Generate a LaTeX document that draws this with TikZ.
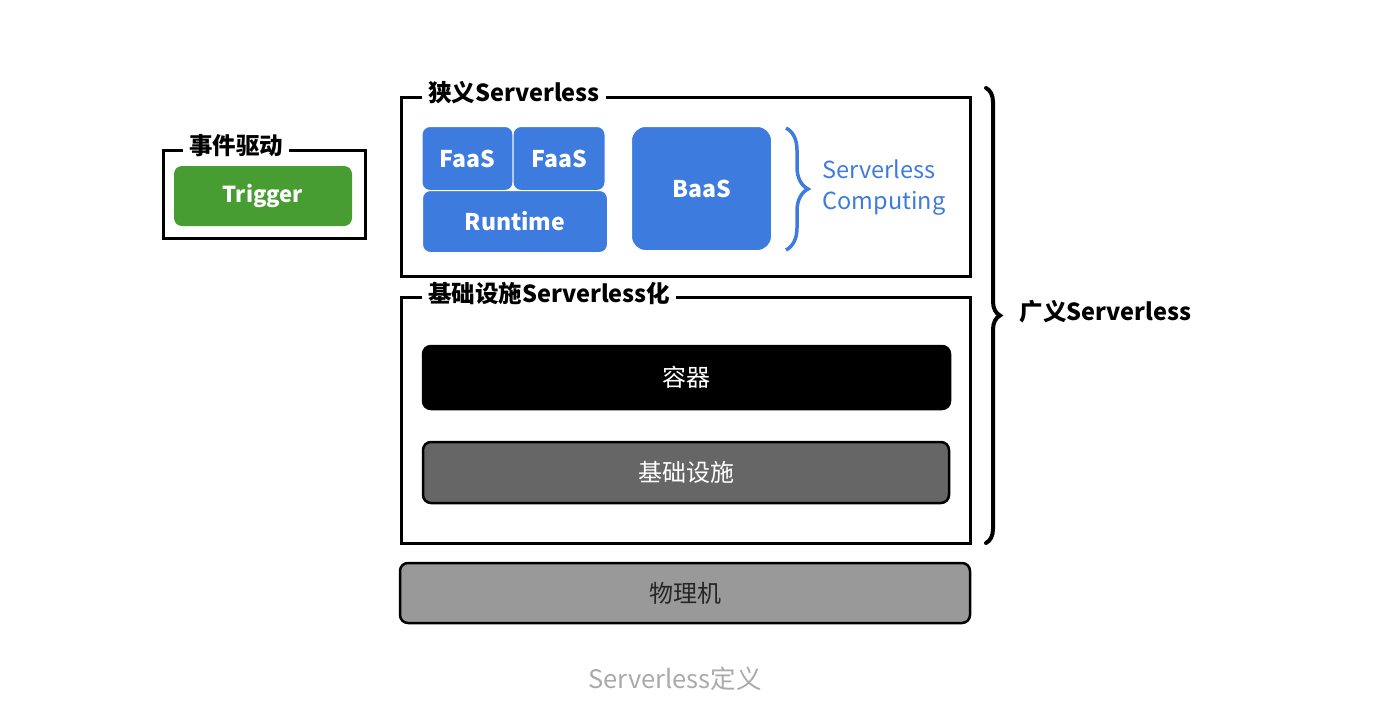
\documentclass[tikz,border=0pt]{standalone}
\usepackage{fontspec}
\setmainfont{Noto Sans CJK SC}
\usetikzlibrary{decorations.pathreplacing,positioning}
\definecolor{faasblue}{RGB}{62,123,222}
\definecolor{triggergreen}{RGB}{72,157,50}
\definecolor{infragrey}{RGB}{102,102,102}
\definecolor{hostgrey}{RGB}{153,153,153}
\definecolor{captiongrey}{RGB}{170,170,170}
\tikzset{
  frame/.style={draw=black,line width=3pt,inner sep=0pt},
  framelabel/.style={fill=white,inner xsep=6pt,inner ysep=1pt,anchor=west,
    font=\fontsize{23.5}{26}\selectfont\bfseries},
  bluebox/.style={fill=faasblue,draw=white,line width=1pt,rounded corners=8pt,
    text=white,font=\fontsize{23}{26}\selectfont\bfseries},
  greenbox/.style={fill=triggergreen,rounded corners=8pt,text=white,
    font=\fontsize{22}{25}\selectfont\bfseries},
  layerbox/.style={draw=black,line width=2.5pt,rounded corners=8pt,
    font=\fontsize{24}{27}\selectfont},
  bluebrace/.style={decorate,decoration={brace,amplitude=22pt},
    draw=faasblue,line width=3.5pt},
  bigbrace/.style={decorate,decoration={brace,amplitude=14pt},
    draw=black,line width=4pt,line cap=round}
}
\begin{document}
\begin{tikzpicture}[x=1pt,y=-1pt]
  \useasboundingbox (0,0) rectangle (1376,710);
  % event trigger
  \node[frame,minimum width=202pt,minimum height=88pt] (eventframe) at (264,194) {};
  \node[framelabel] (eventlabel) at (183,146) {事件驱动};
  \node[greenbox,minimum width=178pt,minimum height=60pt] (trigger) at (263,196) {Trigger};
  % narrow serverless
  \node[frame,minimum width=569pt,minimum height=179pt] (narrowframe) at (685.5,186.5) {};
  \node[framelabel] (narrowlabel) at (422,93) {狭义Serverless};
  \node[bluebox,minimum width=91pt,minimum height=64pt] (faasa) at (467.5,158.5) {FaaS};
  \node[bluebox,minimum width=92pt,minimum height=64pt] (faasb) at (559,158.5) {FaaS};
  \node[bluebox,minimum width=185pt,minimum height=62pt] (runtime) at (515,221.5) {Runtime};
  \node[bluebox,rounded corners=14pt,minimum width=140pt,minimum height=124pt] (baas) at (701.5,188.5) {BaaS};
  \coordinate (bluetop) at (786,128);
  \coordinate (bluebot) at (786,250);
  \draw[bluebrace] (bluetop) -- (bluebot);
  \node[anchor=west,align=left,text=faasblue,font=\fontsize{23.5}{31}\selectfont] (computing) at (819,188) {Serverless\\Computing};
  % infrastructure serverless
  \node[frame,minimum width=569pt,minimum height=246pt] (infraframe) at (685.5,420) {};
  \node[framelabel] (infralabel) at (422,293) {基础设施Serverless化};
  \node[layerbox,fill=black,text=white,minimum width=527pt,minimum height=63pt] (container) at (686.5,377.5) {容器};
  \node[layerbox,fill=infragrey,text=white,minimum width=526pt,minimum height=61pt] (infra) at (686,472.5) {基础设施};
  % physical host
  \node[layerbox,fill=hostgrey,text=black!85,minimum width=570pt,minimum height=60pt] (host) at (685,593) {物理机};
  % broad serverless
  \coordinate (bigtop) at (986,88);
  \coordinate (bigbot) at (986,543);
  \draw[bigbrace] (bigtop) -- (bigbot);
  \node[anchor=west,font=\fontsize{23.5}{26}\selectfont\bfseries] (broad) at (1016,312) {广义Serverless};
  % caption
  \node[text=captiongrey,font=\fontsize{25.5}{28}\selectfont] (caption) at (675,679) {Serverless定义};
\end{tikzpicture}
\end{document}
